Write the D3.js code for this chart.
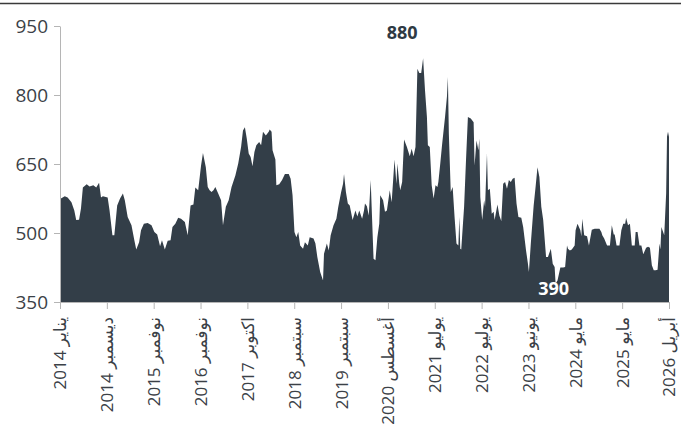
<!DOCTYPE html>
<html><head><meta charset="utf-8">
<script src="https://cdn.jsdelivr.net/npm/d3@7"></script>
<style>body{margin:0;background:#fff} svg{display:block}</style>
</head><body>
<svg id="c" width="681" height="448"></svg>
<script>
const weeks = [0,1,5,8,12,15,17,20,22,24,28,31,35,38,41,43,45,50,52,55,57,60,63,66,68,71,75,78,80,83,85,88,92,96,99,102,105,107,110,113,116,118,121,124,127,131,134,137,140,142,145,148,150,153,155,157,159,161,163,166,169,171,174,177,180,184,187,190,192,194,196,198,200,202,204,206,209,211,213,216,219,220,222,223,226,227,230,233,236,240,242,244,246,248,250,252,255,257,260,262,266,268,270,273,276,277,280,282,284,287,290,292,295,297,298,300,302,304,307,310,312,314,317,319,320,322,324,326,327,329,331,333,335,336,339,341,343,346,348,350,351,353,354,356,357,359,361,364,367,369,371,373,375,377,379,381,383,385,386,388,390,392,394,396,397,399,401,404,406,407,408,410,412,414,416,418,419,420,421,424,426,428,431,434,435,437,439,440,441,443,445,446,448,449,451,453,455,456,459,461,463,465,467,469,471,473,475,477,479,481,484,486,489,491,492,494,497,499,501,503,505,507,510,512,515,517,519,520,522,525,528,530,532,533,535,537,540,541,543,546,547,548,550,553,555,558,561,566,568,569,571,574,577,579,581,582,584,587,589,591,593,594,596,598,600,603,604,606,608,610,612,615,617,619,621,623,625,627,629,630,631,634,636,637,638,639];
const prices = [601,575,580,577,567,549,528,529,553,599,606,601,604,599,609,577,580,577,549,495,495,560,575,586,571,535,517,484,464,480,506,520,522,517,502,497,471,484,464,483,484,513,520,533,531,524,495,560,562,599,593,647,674,643,600,593,589,593,600,586,571,517,557,571,600,625,651,687,723,730,705,673,665,645,676,691,698,691,720,712,720,725,720,680,660,604,606,615,628,628,618,582,502,491,502,473,466,480,473,491,488,477,448,415,397,455,477,462,495,517,531,557,589,607,628,589,564,560,528,549,536,549,531,549,564,558,538,615,557,444,441,491,520,582,571,546,549,593,567,629,660,607,651,607,593,611,703,687,667,683,667,687,857,848,848,880,810,752,691,687,604,575,604,600,611,651,694,752,796,839,716,589,600,535,477,473,535,466,464,557,658,752,749,741,647,701,680,705,578,528,571,557,673,593,596,542,546,528,562,538,526,607,611,596,615,611,618,620,564,535,533,513,462,433,415,477,560,600,643,622,557,528,448,448,466,433,426,390,397,425,425,426,473,466,462,464,473,506,520,506,493,531,495,493,473,507,509,509,502,495,488,473,473,517,497,497,473,473,506,520,520,533,517,520,473,473,502,502,473,473,454,468,470,468,430,419,419,420,477,464,513,495,586,720,709,720];
const yTicks = [350,500,650,800,950];
const xTickLabels = ["يناير 2014","ديسمبر 2014","نوفمبر 2015","نوفمبر 2016","اكتوبر 2017","سبتمبر 2018","سبتمبر 2019","أغسطس 2020","يوليو 2021","يوليو 2022","يونيو 2023","مايو 2024","مايو 2025","أبريل 2026"];
const annoWeeks = [381, 520];
const annoValues = [880, 390];

const svg = d3.select("#c");
const font = "'Open Sans', 'DejaVu Sans', sans-serif";
const x = d3.scaleLinear().domain([0, 639]).range([60, 669]);
const y = d3.scaleLinear().domain([350, 950]).range([302, 26]);

svg.append("line").attr("x1",0).attr("x2",681).attr("y1",3.5).attr("y2",3.5)
  .attr("stroke","#3a3a3a").attr("stroke-width",1.6);

const data = weeks.map((w,i)=>({w, v: prices[i]}));
svg.append("path").datum(data)
  .attr("fill","#333e48")
  .attr("d", d3.area().x(d=>x(d.w)).y0(y(350)).y1(d=>y(d.v)));

const yAxis = svg.append("g").attr("transform","translate(60,0)")
  .call(d3.axisLeft(y).tickValues(yTicks).tickSize(6).tickSizeOuter(0).tickPadding(6));
yAxis.select(".domain").attr("stroke","#b5b5b5");
yAxis.selectAll(".tick line").attr("stroke","#b5b5b5");
yAxis.selectAll("text").attr("fill","#3b4147").style("font-family",font).style("font-size","19px");

const tickWeeks = xTickLabels.map((_,i)=> i*639/13);
const xAxis = svg.append("g").attr("transform","translate(0,302)")
  .call(d3.axisBottom(x).tickValues(tickWeeks).tickFormat((d,i)=>xTickLabels[i]).tickSize(7).tickSizeOuter(0));
xAxis.select(".domain").attr("stroke","#b5b5b5");
xAxis.selectAll(".tick line").attr("stroke","#b5b5b5");
xAxis.selectAll("text")
  .attr("fill","#3b4147").style("font-family",font).style("font-size","17px")
  .attr("text-anchor","end")
  .attr("transform","rotate(-90)")
  .attr("x",-15).attr("y",0).attr("dy","0.35em");

// annotations
svg.append("text").attr("x", x(annoWeeks[0]) - 21).attr("y", y(annoValues[0]) - 19)
  .attr("text-anchor","middle").attr("fill","#2f3a44")
  .style("font-family",font).style("font-size","18px").style("font-weight","bold")
  .text(String(annoValues[0]));
svg.append("text").attr("x", x(annoWeeks[1]) - 2).attr("y", y(annoValues[1]) + 11)
  .attr("text-anchor","middle").attr("fill","#ffffff")
  .style("font-family",font).style("font-size","18px").style("font-weight","bold")
  .text(String(annoValues[1]));
</script>
</body></html>
